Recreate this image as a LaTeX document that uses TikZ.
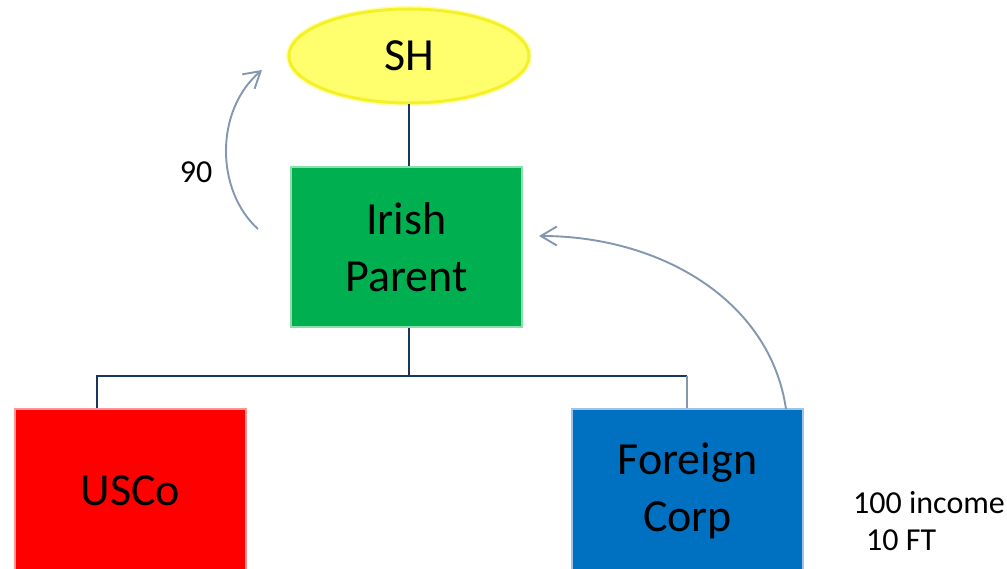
\documentclass[tikz,border=0pt]{standalone}
\usepackage{fontspec}
\setmainfont{Carlito}
\usetikzlibrary{shapes.geometric,arrows.meta}
\definecolor{shfill}{RGB}{255,255,110}
\definecolor{shedge}{RGB}{245,240,40}
\definecolor{shglow}{RGB}{255,255,170}
\definecolor{parentfill}{RGB}{0,176,80}
\definecolor{parentedge}{RGB}{140,222,170}
\definecolor{usfill}{RGB}{255,0,0}
\definecolor{usedge}{RGB}{255,150,150}
\definecolor{forfill}{RGB}{0,112,192}
\definecolor{foredge}{RGB}{157,195,230}
\definecolor{treeline}{RGB}{23,55,94}
\definecolor{flowline}{RGB}{132,151,176}
\tikzset{
  bigtext/.style={font=\fontsize{46}{57}\selectfont, text=black, align=center},
  smalltext/.style={font=\fontsize{32}{37}\selectfont, text=black},
  entity/.style={rectangle, inner sep=0pt, minimum width=231pt, line width=2pt, bigtext},
  tree/.style={draw=treeline, line width=2.8pt},
  treethin/.style={draw=flowline, line width=1.6pt},
  flow/.style={draw=flowline, line width=1.9pt, -{Straight Barb[length=16pt,width=19pt]}},
}
\begin{document}
\begin{tikzpicture}[x=1pt, y=-1pt]
  \useasboundingbox (0,0) rectangle (1007,569);
  \clip (0,0) rectangle (1007,569);

  % soft halo round the shareholder ellipse
  \node[ellipse, draw=shglow, line width=6pt, inner sep=0pt,
        minimum width=240pt, minimum height=94pt] (shhalo) at (409,56) {};
  % entities
  \node[ellipse, draw=shedge, fill=shfill, line width=3pt, inner sep=0pt,
        minimum width=240pt, minimum height=94pt, bigtext] (sh) at (409,56) {SH};
  \node[entity, draw=parentedge, fill=parentfill, minimum height=160pt]
        (irish) at (406.5,247) {Irish\\Parent};
  \node[entity, draw=usedge, fill=usfill, minimum height=164pt]
        (usco) at (130.5,491) {USCo};
  \node[entity, draw=foredge, fill=forfill, minimum height=164pt]
        (foreign) at (687.5,491) {Foreign\\Corp};

  % ownership tree
  \coordinate (j) at (409,376);
  \coordinate (jl) at (97,376);
  \coordinate (jr) at (687,376);
  \draw[tree] (sh.south -| j) -- (irish.north -| j);
  \draw[tree] (irish.south -| j) -- (j);
  \draw[tree] (jl |- usco.north) -- (jl) -- (jr);
  \draw[treethin] (jr) -- (jr |- foreign.north);

  % distribution flows
  \coordinate (d1s) at (258,229);
  \coordinate (d1e) at (262,70);
  \draw[flow] (d1s) .. controls (215,190) and (215,110) .. (d1e);
  \coordinate (d2s) at (786,409);
  \coordinate (d2e) at (539,236);
  \draw[flow] (d2s) .. controls (770,300) and (660,236) .. (d2e);

  % labels
  \node[smalltext] (ninety) at (196,172) {90};
  \node[smalltext, anchor=base west, inner sep=0pt] (income) at (853,513) {100 income};
  \node[smalltext, anchor=base west, inner sep=0pt] (ftax) at (866,550) {10 FT};
\end{tikzpicture}
\end{document}
